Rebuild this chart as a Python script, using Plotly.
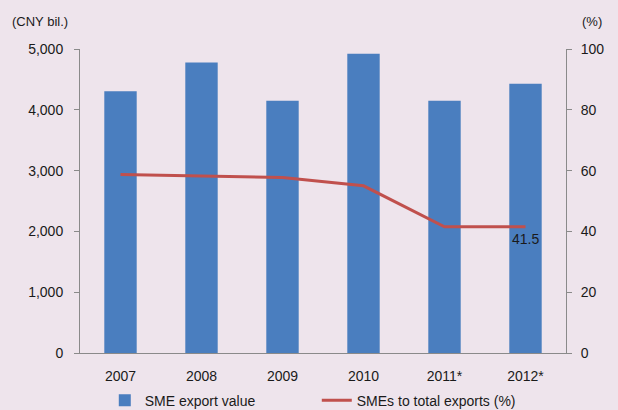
import plotly.graph_objects as go

years = ["2007", "2008", "2009", "2010", "2011*", "2012*"]
export_value = [4305, 4778, 4147, 4921, 4147, 4427]
share_pct = [58.7, 58.1, 57.7, 55.0, 41.5, 41.5]
left_ticks = [0, 1000, 2000, 3000, 4000, 5000]
right_ticks = [0, 20, 40, 60, 80, 100]

BG = "#EEE4EC"
FONT = "Liberation Sans"

fig = go.Figure()
fig.add_trace(go.Bar(x=years, y=export_value, name="SME export value",
                     marker=dict(color="#4A7EBF", line=dict(width=0)),
                     width=0.4))
fig.add_trace(go.Scatter(x=years, y=share_pct, name="SMEs to total exports (%)",
                         mode="lines", line=dict(color="#C0504D", width=3),
                         yaxis="y2"))

fig.add_annotation(x=years[-1], y=share_pct[-1], yref="y2", text="41.5",
                   showarrow=False, xshift=0, yshift=-12,
                   font=dict(size=14, color="#1a1a1a", family=FONT))
fig.add_annotation(xref="paper", yref="paper", x=-0.144, y=1.089, text="(CNY bil.)",
                   showarrow=False, xanchor="left", yanchor="middle",
                   font=dict(size=13, color="#1a1a1a", family=FONT))
fig.add_annotation(xref="paper", yref="paper", x=1.029, y=1.089, text="(%)",
                   showarrow=False, xanchor="left", yanchor="middle",
                   font=dict(size=13, color="#1a1a1a", family=FONT))

fig.update_layout(
    width=618, height=410,
    paper_bgcolor=BG, plot_bgcolor=BG,
    margin=dict(l=80, r=52, t=49, b=57, autoexpand=False),
    font=dict(family=FONT, size=14, color="#1a1a1a"),
    showlegend=True,
    legend=dict(orientation="h", x=0.051, xanchor="left", y=0.062,
                yref="container", yanchor="top",
                font=dict(size=14), bgcolor="rgba(0,0,0,0)", itemwidth=30,
                entrywidth=167, entrywidthmode="pixels"),
    xaxis=dict(showline=True, linecolor="#8a8a8a", linewidth=1, showgrid=False,
               ticks="", tickfont=dict(size=14), automargin=False,
               ticklabelstandoff=10),
    yaxis=dict(range=[0, 5000], tickvals=left_ticks, tickformat=",d",
               showline=True, linecolor="#8a8a8a", linewidth=1, showgrid=False,
               ticks="outside", ticklen=5, tickcolor="#8a8a8a", zeroline=False,
               tickfont=dict(size=14), automargin=False, ticklabelstandoff=8),
    yaxis2=dict(range=[0, 100], tickvals=right_ticks, overlaying="y", side="right",
                showline=True, linecolor="#8a8a8a", linewidth=1, showgrid=False,
                ticks="outside", ticklen=5, tickcolor="#8a8a8a", zeroline=False,
                tickfont=dict(size=14), automargin=False, ticklabelstandoff=6),
)

fig.write_html("out.html", config={"displayModeBar": False},
               post_script="document.body.style.margin='0';")
